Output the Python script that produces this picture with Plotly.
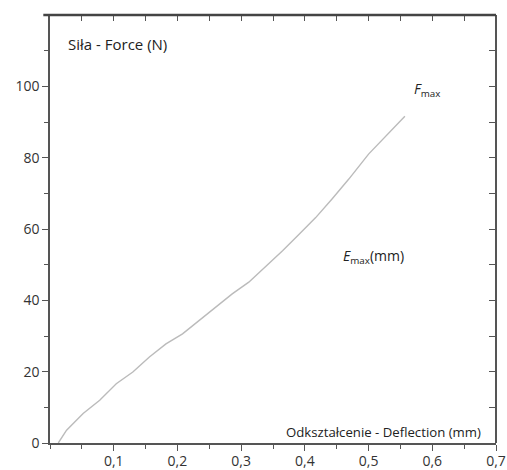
import plotly.graph_objects as go

# Data
deflection_mm = [0.013, 0.026, 0.052, 0.078, 0.104, 0.130, 0.156, 0.182, 0.208, 0.234,
                 0.260, 0.286, 0.312, 0.339, 0.365, 0.391, 0.417, 0.443, 0.469, 0.500,
                 0.526, 0.557]
force_n = [0.0, 3.6, 8.3, 12.0, 16.6, 19.9, 24.1, 27.8, 30.6, 34.4,
           38.1, 41.8, 45.1, 49.5, 53.9, 58.5, 63.2, 68.5, 74.0, 81.0,
           85.8, 91.6]

x_tickvals = [0.1, 0.2, 0.3, 0.4, 0.5, 0.6, 0.7]
x_ticktext = ["0,1", "0,2", "0,3", "0,4", "0,5", "0,6", "0,7"]
y_tickvals = [0, 20, 40, 60, 80, 100]
y_ticktext = ["0", "20", "40", "60", "80", "100"]
x_top_ticks = [0.05, 0.1, 0.15, 0.2, 0.25, 0.3, 0.35, 0.4, 0.45, 0.5, 0.55, 0.6, 0.65]
y_right_ticks = [10, 20, 30, 40, 50, 60, 70, 80, 90, 100, 110]

AX = "#555555"
FONT = "Open Sans"

fig = go.Figure()
fig.add_trace(go.Scatter(x=deflection_mm, y=force_n, mode="lines",
                         line=dict(color="#bbbbbb", width=1.4),
                         showlegend=False, hoverinfo="skip"))
fig.add_trace(go.Scatter(x=[0, 0.7], y=[0, 120], xaxis="x2", yaxis="y2", mode="markers",
                         marker=dict(opacity=0), showlegend=False, hoverinfo="skip"))

fig.update_layout(
    width=507, height=470,
    margin=dict(l=50, r=11, t=15, b=27, pad=0, autoexpand=False),
    paper_bgcolor="white", plot_bgcolor="white",
    font=dict(family=FONT, size=14, color="#333333"),
    xaxis=dict(range=[0, 0.7], tickvals=x_tickvals, ticktext=x_ticktext, automargin=False,
               showgrid=False, zeroline=False, showline=True,
               linecolor=AX, linewidth=1.6,
               ticks="outside", ticklen=6, tickcolor=AX, tickwidth=1.3, ticklabelstandoff=-2,
               minor=dict(dtick=0.05, tick0=0, ticks="outside", ticklen=4, tickcolor=AX, tickwidth=1.2),
               tickfont=dict(size=14, color="#333333")),
    yaxis=dict(range=[0, 120], tickvals=y_tickvals, ticktext=y_ticktext, automargin=False,
               showgrid=False, zeroline=False, showline=True,
               linecolor=AX, linewidth=1.6,
               ticks="outside", ticklen=6, tickcolor=AX, tickwidth=1.3,
               minor=dict(dtick=10, tick0=0, ticks="outside", ticklen=4, tickcolor=AX, tickwidth=1.2),
               tickfont=dict(size=14, color="#333333")),
    xaxis2=dict(range=[0, 0.7], overlaying="x", side="top", anchor="free", position=1,
                automargin=False, tickvals=x_top_ticks, showticklabels=False,
                showgrid=False, zeroline=False, showline=True, linecolor=AX, linewidth=2,
                ticks="inside", ticklen=5, tickcolor=AX, tickwidth=1.2),
    yaxis2=dict(range=[0, 120], overlaying="y", side="right", anchor="free", position=1,
                automargin=False, tickvals=y_right_ticks, showticklabels=False,
                showgrid=False, zeroline=False, showline=True, linecolor=AX, linewidth=1.6,
                ticks="inside", ticklen=6, tickcolor=AX, tickwidth=1.2),
)

# top frame edge, drawn as a plain line over the plot
fig.add_shape(type="line", xref="paper", yref="paper", x0=-0.015, x1=1, y0=1, y1=1,
              line=dict(color="#444444", width=2.5), layer="above")

ann_font = dict(family=FONT, size=14, color="#222222")
fig.add_annotation(x=0.025, y=112, xref="x", yref="y", text="Siła - Force (N)",
                   showarrow=False, xanchor="left", yanchor="middle",
                   font=dict(family=FONT, size=15, color="#222222"))
fig.add_annotation(x=0.568, y=99, xref="x", yref="y", text="<i>F</i><sub>max</sub>",
                   showarrow=False, xanchor="left", yanchor="middle", font=ann_font)
fig.add_annotation(x=0.456, y=52.3, xref="x", yref="y", text="<i>E</i><sub>max</sub>(mm)",
                   showarrow=False, xanchor="left", yanchor="middle", font=ann_font)
fig.add_annotation(x=0.679, y=3.2, xref="x", yref="y", text="Odkształcenie - Deflection (mm)",
                   showarrow=False, xanchor="right", yanchor="middle",
                   font=dict(family=FONT, size=13.2, color="#222222"))

post = ("document.documentElement.style.margin='0';document.body.style.margin='0';"
        "document.documentElement.style.overflow='hidden';document.body.style.overflow='hidden';"
        "var d=document.getElementsByClassName('plotly-graph-div');"
        "for(var i=0;i<d.length;i++){d[i].style.display='block';}")
fig.write_html("out.html", post_script=post, config={"displayModeBar": False})
